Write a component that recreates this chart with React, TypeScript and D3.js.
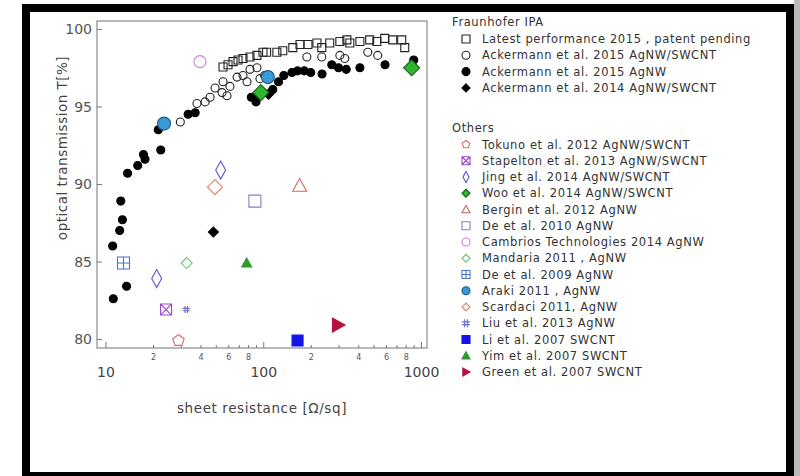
import React, { useRef, useEffect } from "react";
import * as d3 from "d3";

// legend labels
const fraunhoferLabels = [
  "Latest performance 2015 , patent pending",
  "Ackermann et al. 2015  AgNW/SWCNT",
  "Ackermann et al. 2015  AgNW",
  "Ackermann et al.  2014 AgNW/SWCNT",
];
const otherLabels = [
  "Tokuno et al. 2012 AgNW/SWCNT",
  "Stapelton et al. 2013 AgNW/SWCNT",
  "Jing et al. 2014 AgNW/SWCNT",
  "Woo et al. 2014 AgNW/SWCNT",
  "Bergin et al. 2012 AgNW",
  "De et al. 2010 AgNW",
  "Cambrios Technologies 2014 AgNW",
  "Mandaria 2011 , AgNW",
  "De et al. 2009 AgNW",
  "Araki 2011 , AgNW",
  "Scardaci 2011, AgNW",
  "Liu et al. 2013  AgNW",
  "Li et al. 2007  SWCNT",
  "Yim et al. 2007  SWCNT",
  "Green et al. 2007  SWCNT",
];

// [sheet resistance, transmission]
const latest2015 = [
  [55.6, 97.55], [59.8, 97.7], [64.3, 97.9], [69.2, 98.0], [74.4, 98.1],
  [82.4, 98.2], [91.2, 98.3], [99.6, 98.5], [105, 98.5], [122, 98.5],
  [133, 98.6], [154, 98.8], [171, 99.0], [192, 99.0], [219, 99.1],
  [235, 98.8], [264, 99.1], [306, 99.2], [339, 99.3], [354, 99.1],
  [410, 99.2], [473, 99.3], [525, 99.2], [589, 99.4], [662, 99.3],
  [755, 99.3], [789, 98.8],
];
const ackermann2015Hybrid = [
  [29.8, 94.0], [38.0, 95.2], [42.8, 95.3], [46.0, 95.6], [49.5, 96.2],
  [55.6, 96.6], [58.9, 95.7], [54.8, 95.9], [61.5, 96.3], [68.2, 96.9],
  [74.4, 97.0], [78.9, 96.6], [82.4, 97.4], [91.2, 97.5], [95.3, 96.8],
  [102, 97.0], [189, 98.2], [235, 98.2], [306, 98.3], [329, 98.1],
  [460, 98.5], [532, 98.3],
];
const ackermann2015AgNW = [
  [11.2, 82.6], [13.6, 83.4], [11.1, 86.0], [12.3, 87.0], [12.8, 87.7],
  [12.5, 88.9], [13.8, 90.7], [16.0, 91.2], [17.8, 91.6], [17.4, 91.9],
  [22.4, 92.2], [21.6, 93.5], [33.4, 94.5], [37.0, 94.6], [84, 95.6],
  [90, 95.3], [115, 96.1], [125, 96.6], [135, 97.0], [152, 97.2],
  [165, 97.3], [182, 97.3], [200, 97.2], [236, 97.1], [272, 97.7],
  [300, 97.5], [336, 97.4], [410, 97.5], [592, 97.7], [900, 98.0],
];
const ackermann2014 = [[48.3, 86.9], [90, 95.6], [108, 95.8]];
const tokuno = [[29.0, 79.9]];
const stapelton = [[24.2, 81.9]];
const jing = [[53.7, 90.9], [21.1, 83.9]];
const woo = [[96.6, 95.9], [873, 97.5]];
const bergin = [[170, 89.9]];
const de2010 = [[88.5, 88.9]];
const cambrios = [[39.7, 97.9]];
const mandaria = [[32.7, 84.9]];
const de2009 = [[13.0, 84.9]];
const araki = [[23.5, 93.9], [107, 96.9]];
const scardaci = [[49.4, 89.8]];
const liu = [[32.5, 81.9]];
const li = [[165, 79.9]];
const yim = [[78.5, 84.9]];
const green = [[298, 80.9]];

const yTicks = [80, 85, 90, 95, 100];
const xMajor = [10, 100, 1000];
const xMinorFactors = [2, 3, 4, 5, 6, 7, 8, 9];

// marker path for a given kind, centered on 0,0
const markerPath = (kind, s) => {
  const h = s / 2;
  switch (kind) {
    case "circle":
      return d3.symbol(d3.symbolCircle, Math.PI * h * h)();
    case "square":
    case "squareX":
    case "squarePlus":
      return `M${-h},${-h}H${h}V${h}H${-h}Z` +
        (kind === "squareX" ? `M${-h},${-h}L${h},${h}M${h},${-h}L${-h},${h}` : "") +
        (kind === "squarePlus" ? `M0,${-h}V${h}M${-h},0H${h}` : "");
    case "diamond":
      return `M0,${-h}L${h},0L0,${h}L${-h},0Z`;
    case "tallDiamond":
      return `M0,${-h}L${h * 0.55},0L0,${h}L${-h * 0.55},0Z`;
    case "triangle":
      return `M0,${-h}L${h},${h * 0.8}L${-h},${h * 0.8}Z`;
    case "triRight":
      return `M${-h * 0.8},${-h}L${h},0L${-h * 0.8},${h}Z`;
    case "pentagon": {
      const pts = d3.range(5).map((i) => {
        const a = -Math.PI / 2 + (i * 2 * Math.PI) / 5;
        return [h * Math.cos(a), h * Math.sin(a)];
      });
      return "M" + pts.map((p) => p.join(",")).join("L") + "Z";
    }
    case "hash":
      return `M${-h},${-h * 0.35}H${h}M${-h},${h * 0.35}H${h}M${-h * 0.35},${-h}V${h}M${h * 0.35},${-h}V${h}`;
    default:
      return "";
  }
};

// series styling: kind, size in plot, fill, stroke
const series = [
  { data: latest2015, kind: "square", size: 8, fill: "none", stroke: "#222", group: 0, idx: 0 },
  { data: ackermann2015Hybrid, kind: "circle", size: 8, fill: "none", stroke: "#222", group: 0, idx: 1 },
  { data: ackermann2015AgNW, kind: "circle", size: 8, fill: "#000", stroke: "#000", group: 0, idx: 2 },
  { data: ackermann2014, kind: "diamond", size: 10, fill: "#000", stroke: "#000", group: 0, idx: 3 },
  { data: tokuno, kind: "pentagon", size: 12, fill: "none", stroke: "#e06a6a", group: 1, idx: 0 },
  { data: stapelton, kind: "squareX", size: 11, fill: "none", stroke: "#9a4bc8", group: 1, idx: 1 },
  { data: jing, kind: "tallDiamond", size: 18, fill: "none", stroke: "#5a55d6", group: 1, idx: 2 },
  { data: woo, kind: "diamond", size: 16, fill: "#2fb52f", stroke: "#155f15", group: 1, idx: 3 },
  { data: bergin, kind: "triangle", size: 14, fill: "none", stroke: "#c96a5a", group: 1, idx: 4 },
  { data: de2010, kind: "square", size: 12, fill: "none", stroke: "#8a7cc8", group: 1, idx: 5 },
  { data: cambrios, kind: "circle", size: 12, fill: "none", stroke: "#d77ad7", group: 1, idx: 6 },
  { data: mandaria, kind: "diamond", size: 11, fill: "none", stroke: "#6cc46c", group: 1, idx: 7 },
  { data: de2009, kind: "squarePlus", size: 12, fill: "none", stroke: "#4a72cc", group: 1, idx: 8 },
  { data: araki, kind: "circle", size: 13, fill: "#3a9ad8", stroke: "#1d5a88", group: 1, idx: 9 },
  { data: scardaci, kind: "diamond", size: 15, fill: "none", stroke: "#e2836f", group: 1, idx: 10 },
  { data: liu, kind: "hash", size: 7, fill: "none", stroke: "#6a6ad6", group: 1, idx: 11 },
  { data: li, kind: "square", size: 11, fill: "#1414e6", stroke: "#1414e6", group: 1, idx: 12 },
  { data: yim, kind: "triangle", size: 10, fill: "#2f9a2f", stroke: "#2f9a2f", group: 1, idx: 13 },
  { data: green, kind: "triRight", size: 14, fill: "#b3123f", stroke: "#b3123f", group: 1, idx: 14 },
];

const App = () => {
  const ref = useRef(null);

  useEffect(() => {
    const svg = d3.select(ref.current);
    svg.selectAll("*").remove();
    const font = "DejaVu Sans, sans-serif";

    // picture frame
    svg.append("rect").attr("width", 800).attr("height", 476).attr("fill", "#fff");
    svg.append("rect").attr("x", 794).attr("width", 6).attr("height", 476).attr("fill", "#bbb");
    svg
      .append("rect")
      .attr("x", 26)
      .attr("y", 8)
      .attr("width", 764)
      .attr("height", 468)
      .attr("fill", "none")
      .attr("stroke", "#000")
      .attr("stroke-width", 8);

    const left = 97, right = 427, top = 21, bottom = 348;
    const x = d3.scaleLog().domain([8.83, 1092]).range([left, right]);
    const y = d3.scaleLinear().domain([79.42, 100.52]).range([bottom, top]);

    // plot box
    svg
      .append("rect")
      .attr("x", left)
      .attr("y", top)
      .attr("width", right - left)
      .attr("height", bottom - top)
      .attr("fill", "none")
      .attr("stroke", "#8a8a8a")
      .attr("stroke-width", 1.2);

    // y axis
    svg
      .append("g")
      .attr("transform", `translate(${left},0)`)
      .call(d3.axisLeft(y).tickValues(yTicks).tickSize(-5).tickPadding(5).tickFormat(d3.format("d")))
      .call((g) => g.select(".domain").remove())
      .call((g) => g.selectAll("line").attr("stroke", "#777"))
      .call((g) =>
        g.selectAll("text").attr("font-family", font).attr("font-size", 14).attr("fill", "#555")
      );

    // x axis minor ticks and small labels
    const minor = [];
    xMajor.slice(0, 2).forEach((m) => xMinorFactors.forEach((f) => minor.push(m * f)));
    svg
      .append("g")
      .attr("transform", `translate(0,${bottom})`)
      .call(
        d3
          .axisBottom(x)
          .tickValues(minor)
          .tickSize(-3)
          .tickPadding(6)
          .tickFormat((d) => {
            const f = Math.round(d / Math.pow(10, Math.floor(Math.log10(d) + 1e-9)));
            return f % 2 === 0 ? String(f) : "";
          })
      )
      .call((g) => g.select(".domain").remove())
      .call((g) => g.selectAll("line").attr("stroke", "#777"))
      .call((g) =>
        g.selectAll("text").attr("font-family", font).attr("font-size", 8).attr("fill", "#555")
      );

    // x axis major ticks and labels
    svg
      .append("g")
      .attr("transform", `translate(0,${bottom})`)
      .call(d3.axisBottom(x).tickValues(xMajor).tickSize(-6).tickPadding(19).tickFormat(d3.format("d")))
      .call((g) => g.select(".domain").remove())
      .call((g) => g.selectAll("line").attr("stroke", "#777"))
      .call((g) =>
        g.selectAll("text").attr("font-family", font).attr("font-size", 14).attr("fill", "#444")
      );

    // axis titles
    svg
      .append("text")
      .attr("transform", `translate(67,148) rotate(-90)`)
      .attr("text-anchor", "middle")
      .attr("font-family", font)
      .attr("font-size", 13.5)
      .attr("letter-spacing", 0.5)
      .attr("fill", "#444")
      .text("optical transmission T[%]");
    svg
      .append("text")
      .attr("x", 262)
      .attr("y", 413)
      .attr("text-anchor", "middle")
      .attr("font-family", font)
      .attr("font-size", 13.5)
      .attr("letter-spacing", 0.6)
      .attr("fill", "#444")
      .text("sheet resistance [\u03A9/sq]");

    // points
    series.forEach((s) => {
      svg
        .append("g")
        .selectAll("path")
        .data(s.data)
        .join("path")
        .attr("transform", (d) => `translate(${x(d[0])},${y(d[1])})`)
        .attr("d", markerPath(s.kind, s.size))
        .attr("fill", s.fill)
        .attr("stroke", s.stroke)
        .attr("stroke-width", 1.1);
    });

    // legend
    const legend = svg
      .append("g")
      .attr("font-family", font)
      .attr("font-size", 11.5)
      .attr("letter-spacing", 0.6)
      .attr("fill", "#333");
    const rowY = (grp, i) => (grp === 0 ? 43 + i * 16.3 : 148.5 + i * 16.25);
    legend.append("text").attr("x", 452).attr("y", 26).text("Fraunhofer IPA");
    legend.append("text").attr("x", 452).attr("y", 132).text("Others");
    series.forEach((s) => {
      const ly = rowY(s.group, s.idx);
      const labels = s.group === 0 ? fraunhoferLabels : otherLabels;
      legend
        .append("path")
        .attr("transform", `translate(466,${ly - 4})`)
        .attr("d", markerPath(s.kind, s.kind === "tallDiamond" ? 11 : 8))
        .attr("fill", s.fill)
        .attr("stroke", s.stroke)
        .attr("stroke-width", 1.1);
      legend.append("text").attr("x", 482).attr("y", ly).text(labels[s.idx]);
    });
  }, []);

  return (
    <div style={{ position: "fixed", left: 0, top: 0 }}>
      <svg ref={ref} width={800} height={476} style={{ display: "block" }} />
    </div>
  );
};

export default App;
